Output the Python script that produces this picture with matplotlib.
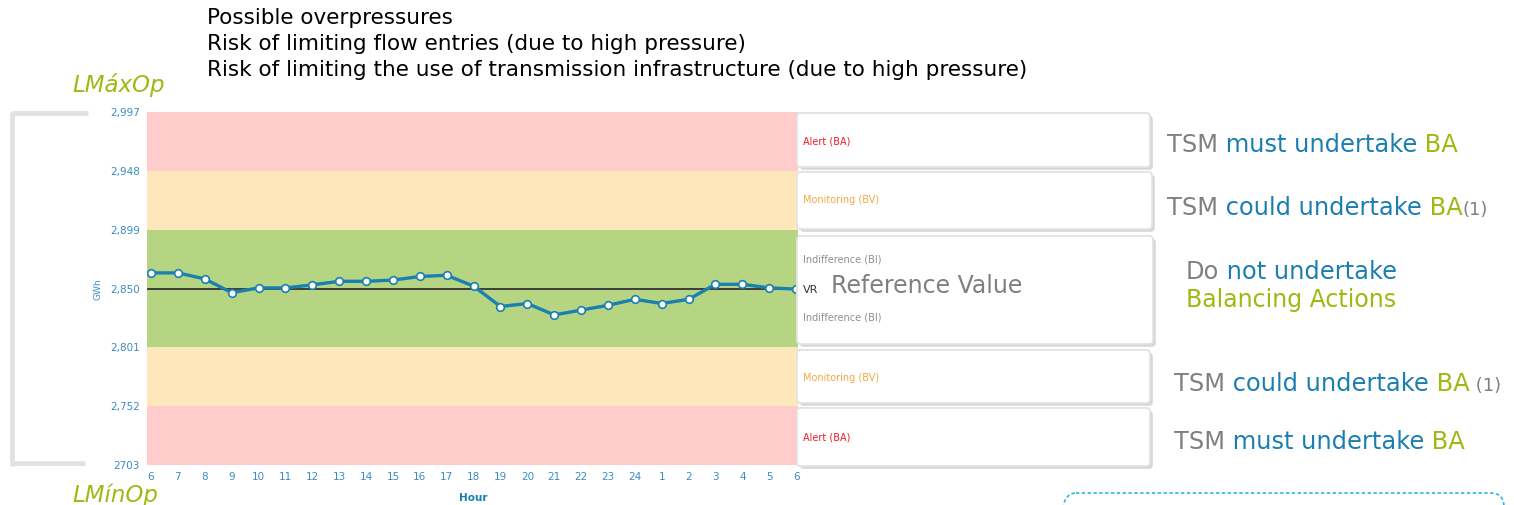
import numpy as np
import matplotlib
matplotlib.use("Agg")
import matplotlib.pyplot as plt
from matplotlib.patches import FancyBboxPatch
import matplotlib.patheffects as pe

# data
hour_labels = ["6", "7", "8", "9", "10", "11", "12", "13", "14", "15", "16", "17", "18",
               "19", "20", "21", "22", "23", "24", "1", "2", "3", "4", "5", "6"]
gwh = [2863, 2863, 2858, 2846.5, 2850.5, 2850.5, 2853, 2856, 2856, 2857, 2860, 2861, 2852,
       2835, 2837.5, 2828, 2832, 2836, 2841, 2837.5, 2841, 2853.5, 2853.5, 2850.5, 2849.5]
band_limits = [2703, 2752, 2801, 2899, 2948, 2997]
band_colors = ["#ffcccc", "#fde7bb", "#b5d583", "#fde7bb", "#ffcccc"]
ref_value = 2850
ytick_vals = [2703, 2752, 2801, 2850, 2899, 2948, 2997]
ytick_labels = ["2703", "2,752", "2,801", "2,850", "2,899", "2,948", "2,997"]

W, H = 1514, 505
BLUE = "#1a7fb0"
TICKBLUE = "#3a8cc4"
GREEN = "#9bbb12"
GRAY = "#808080"

fig = plt.figure(figsize=(W / 100, H / 100), dpi=100)

# main chart axes (pixel box 147..798 x 112..465)
ax = fig.add_axes([147 / W, 1 - 465 / H, (798 - 147) / W, (465 - 112) / H])
x = np.arange(len(gwh))
for lo, hi, c in zip(band_limits[:-1], band_limits[1:], band_colors):
    ax.axhspan(lo, hi, color=c, lw=0, zorder=0)
ax.axhline(ref_value, color="#333333", lw=1.3, zorder=1)
ax.plot(x, gwh, color="#1a80b0", lw=2.4, marker="o", ms=5.5, mfc="white",
        mec="#1a80b0", mew=1.2, zorder=3)
ax.set_xlim(-0.15, 24.07)
ax.set_ylim(band_limits[0], band_limits[-1])
ax.set_xticks(x)
ax.set_xticklabels(hour_labels)
ax.set_yticks(ytick_vals)
ax.set_yticklabels(ytick_labels)
ax.tick_params(length=0, labelsize=7.5, colors=TICKBLUE, pad=5)
for s in ax.spines.values():
    s.set_visible(False)

# overlay in pixel coordinates
ov = fig.add_axes([0, 0, 1, 1], zorder=5)
ov.set_xlim(0, W)
ov.set_ylim(H, 0)
ov.axis("off")
ov.patch.set_alpha(0)

ov.text(98, 289, "GWh", rotation=90, fontsize=6.5, color=TICKBLUE, ha="center", va="center")
ov.text(473, 498, "Hour", fontsize=7.5, color=BLUE, fontweight="bold", ha="center", va="center")

# top notes
notes = ["Possible overpressures",
         "Risk of limiting flow entries (due to high pressure)",
         "Risk of limiting the use of transmission infrastructure (due to high pressure)"]
for i, t in enumerate(notes):
    ov.text(207, 18 + 26 * i, t, fontsize=15.5, color="black", va="center")

ov.text(72, 85, "LMáxOp", fontsize=16.5, style="italic", color=GREEN, va="center")
ov.text(72, 495, "LMínOp", fontsize=16.5, style="italic", color=GREEN, va="center")

# left bracket (soft grey)
brk = dict(color="#e2e2e2", lw=3.5, solid_capstyle="butt")
ov.plot([12, 12], [112, 466], **brk)
ov.plot([12, 88], [113, 113], **brk)
ov.plot([12, 85], [463, 463], **brk)

# white boxes to the right of the chart
boxes = [(113, 167, 1150), (172, 229, 1152), (236, 344, 1153), (350, 403, 1150), (408, 466, 1150)]
for top, bot, right in boxes:
    p = FancyBboxPatch((797, top), right - 797, bot - top,
                       boxstyle="round,pad=0,rounding_size=4", fc="white", ec="#e2e2e2", lw=1.2,
                       path_effects=[pe.withSimplePatchShadow(offset=(2, -2), shadow_rgbFace="#999999", alpha=0.4),
                                     pe.Normal()])
    ov.add_patch(p)

ov.text(803, 141, "Alert (BA)", fontsize=7, color="#ee1c25", va="center")
ov.text(803, 200, "Monitoring (BV)", fontsize=7, color="#f7a840", va="center")
ov.text(803, 259, "Indifference (BI)", fontsize=7, color="#8f8f8f", va="center")
ov.text(803, 318, "Indifference (BI)", fontsize=7, color="#8f8f8f", va="center")
ov.text(803, 378, "Monitoring (BV)", fontsize=7, color="#f7a840", va="center")
ov.text(803, 437, "Alert (BA)", fontsize=7, color="#ee1c25", va="center")
ov.text(803, 290, "VR", fontsize=8, color="#333333", va="center")
ov.text(831, 286, "Reference Value", fontsize=17, color=GRAY, va="center")

# multi-colour sentences, laid out piece by piece on a shared baseline
renderer = fig.canvas.get_renderer()
inv = ov.transData.inverted()


def rainbow(xp, yp, parts, size=17.4):
    for part in parts:
        fs = part[2] if len(part) > 2 else size
        t = ov.text(xp, yp, part[0], fontsize=fs, color=part[1], va="baseline")
        bb = t.get_window_extent(renderer)
        xp = inv.transform((bb.x1, bb.y0))[0]


rainbow(1167, 152, [("TSM", GRAY), (" must undertake", BLUE), (" BA", GREEN)])
rainbow(1167, 215, [("TSM", GRAY), (" could undertake", BLUE), (" BA", GREEN), ("(1)", GRAY, 13)])
rainbow(1186, 279, [("Do", GRAY), (" not undertake", BLUE)])
ov.text(1186, 307, "Balancing Actions", fontsize=17, color=GREEN, va="baseline")
rainbow(1174, 391, [("TSM", GRAY), (" could undertake", BLUE), (" BA", GREEN), (" (1)", GRAY, 13)])
rainbow(1174, 449, [("TSM", GRAY), (" must undertake", BLUE), (" BA", GREEN)])

# dashed box at the bottom right
db = FancyBboxPatch((1062, 493), 442, 40, boxstyle="round,pad=0,rounding_size=14",
                    fc="none", ec="#27b4e6", lw=1.2, ls=(0, (2, 1.5)))
ov.add_patch(db)

fig.savefig("out.png", dpi=100)
